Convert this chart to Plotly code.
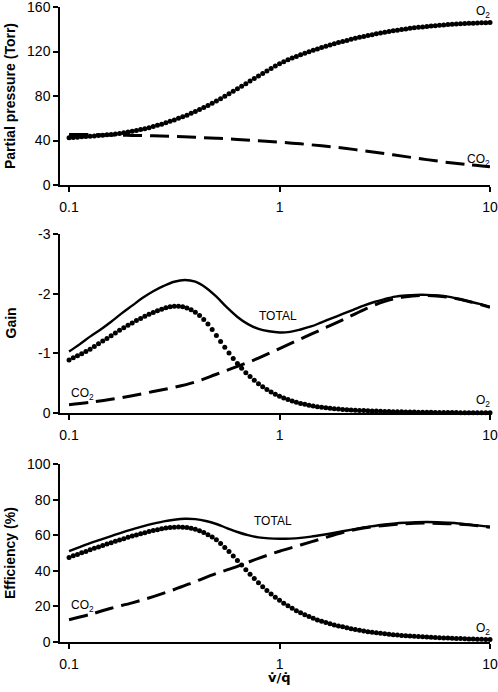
import plotly.graph_objects as go
from plotly.subplots import make_subplots

# ---- x grids -------------------------------------------------------------
MANTISSA = [1.0000, 1.0471, 1.0965, 1.1482, 1.2023, 1.2589, 1.3183, 1.3804, 1.4454, 1.5136,
            1.5849, 1.6596, 1.7378, 1.8197, 1.9055, 1.9953, 2.0893, 2.1878, 2.2909, 2.3988,
            2.5119, 2.6303, 2.7542, 2.8840, 3.0200, 3.1623, 3.3113, 3.4674, 3.6308, 3.8019,
            3.9811, 4.1687, 4.3652, 4.5709, 4.7863, 5.0119, 5.2481, 5.4954, 5.7544, 6.0256,
            6.3096, 6.6069, 6.9183, 7.2444, 7.5858, 7.9433, 8.3176, 8.7096, 9.1201, 9.5499]
VQ_DOTS = [0.1 * m for m in MANTISSA] + list(MANTISSA) + [10.0]

VQ_LINE = [0.1, 0.1259, 0.1585, 0.1995, 0.2512, 0.3162, 0.3981, 0.5012, 0.6310, 0.7943,
           1.0, 1.2589, 1.5849, 1.9953, 2.5119, 3.1623, 3.9811, 5.0119, 6.3096, 7.9433, 10.0]

VQ_TOTAL = [0.1, 0.1122, 0.1259, 0.1413, 0.1585, 0.1778, 0.1995, 0.2239, 0.2512, 0.2818,
            0.3162, 0.3548, 0.3981, 0.4467, 0.5012, 0.5623, 0.6310, 0.7079, 0.7943, 0.8913,
            1.0, 1.1220, 1.2589, 1.4125, 1.5849, 1.7783, 1.9953, 2.2387, 2.5119, 2.8184,
            3.1623, 3.5481, 3.9811, 4.4668, 5.0119, 5.6234, 6.3096, 7.0795, 7.9433, 8.9125, 10.0]

# ---- panel 1: partial pressure (Torr) ------------------------------------
PP_O2 = [42.5, 42.8, 43.0, 43.3, 43.5, 43.8, 44.1, 44.4, 44.8, 45.1,
         45.5, 45.9, 46.4, 46.9, 47.6, 48.3, 49.0, 49.8, 50.6, 51.5,
         52.5, 53.6, 54.7, 55.9, 57.2, 58.5, 59.9, 61.3, 62.8, 64.4,
         66.0, 67.8, 69.6, 71.5, 73.5, 75.5, 77.6, 79.8, 82.0, 84.2,
         86.5, 88.8, 91.1, 93.4, 95.7, 98.0, 100.3, 102.5, 104.7, 106.9,
         109.0, 110.8, 112.5, 114.1, 115.6, 117.0, 118.4, 119.8, 121.1, 122.3,
         123.5, 124.7, 125.8, 126.9, 128.0, 129.0, 130.0, 130.9, 131.8, 132.7,
         133.5, 134.3, 135.1, 135.9, 136.6, 137.3, 138.0, 138.6, 139.2, 139.8,
         140.3, 140.8, 141.3, 141.7, 142.1, 142.5, 142.9, 143.2, 143.6, 143.9,
         144.2, 144.5, 144.7, 144.9, 145.1, 145.3, 145.5, 145.6, 145.8, 145.9, 146.0]
PP_CO2 = [45.5, 45.3, 45.0, 44.6, 44.2, 43.6, 42.9, 42.0, 41.0, 39.8,
          38.5, 37.0, 35.2, 33.2, 30.8, 28.2, 25.5, 22.8, 20.3, 18.2, 16.5]

# ---- panel 2: gain ----------------------------------------------------------
GAIN_O2 = [-0.89, -0.925, -0.96, -0.995, -1.03, -1.07, -1.115, -1.16, -1.205, -1.25,
           -1.295, -1.34, -1.385, -1.43, -1.47, -1.51, -1.55, -1.585, -1.62, -1.655,
           -1.685, -1.715, -1.74, -1.765, -1.78, -1.79, -1.79, -1.78, -1.76, -1.73,
           -1.69, -1.635, -1.565, -1.49, -1.40, -1.30, -1.20, -1.10, -1.005, -0.915,
           -0.83, -0.75, -0.675, -0.61, -0.55, -0.49, -0.44, -0.395, -0.35, -0.315,
           -0.28, -0.25, -0.225, -0.20, -0.18, -0.16, -0.145, -0.13, -0.117, -0.105,
           -0.095, -0.087, -0.079, -0.072, -0.066, -0.06, -0.055, -0.051, -0.047, -0.043,
           -0.04, -0.037, -0.034, -0.032, -0.029, -0.027, -0.025, -0.023, -0.021, -0.02,
           -0.018, -0.017, -0.016, -0.014, -0.013, -0.012, -0.011, -0.010, -0.0095, -0.009,
           -0.008, -0.0075, -0.007, -0.006, -0.0055, -0.005, -0.0045, -0.004, -0.0035, -0.003, -0.003]
GAIN_CO2 = [-0.14, -0.18, -0.23, -0.29, -0.36, -0.43, -0.52, -0.65, -0.78, -0.92,
            -1.08, -1.24, -1.40, -1.56, -1.73, -1.87, -1.95, -1.97, -1.94, -1.87, -1.77]
GAIN_TOTAL = [-1.03, -1.15, -1.28, -1.40, -1.53, -1.67, -1.80, -1.93, -2.04, -2.13,
              -2.20, -2.23, -2.20, -2.10, -1.95, -1.77, -1.61, -1.49, -1.41, -1.37,
              -1.35, -1.36, -1.40, -1.45, -1.52, -1.59, -1.66, -1.73, -1.80, -1.86,
              -1.91, -1.95, -1.97, -1.98, -1.98, -1.97, -1.95, -1.91, -1.87, -1.83, -1.78]

# ---- panel 3: efficiency (%) ---------------------------------------------
EFF_O2 = [47.5, 48.4, 49.2, 50.1, 50.9, 51.8, 52.6, 53.4, 54.2, 55.0,
          55.8, 56.6, 57.3, 58.0, 58.8, 59.5, 60.1, 60.8, 61.4, 62.1,
          62.6, 63.1, 63.6, 64.0, 64.3, 64.5, 64.6, 64.5, 64.3, 63.9,
          63.3, 62.5, 61.5, 60.3, 59.0, 57.5, 55.3, 53.1, 50.8, 48.3,
          45.8, 43.2, 40.6, 38.1, 35.7, 33.3, 31.0, 28.9, 26.9, 25.1,
          23.4, 21.8, 20.3, 18.9, 17.6, 16.4, 15.3, 14.3, 13.3, 12.4,
          11.6, 10.9, 10.2, 9.6, 9.0, 8.5, 8.0, 7.5, 7.0, 6.6,
          6.2, 5.8, 5.5, 5.2, 4.9, 4.6, 4.35, 4.1, 3.9, 3.7,
          3.5, 3.35, 3.2, 3.05, 2.9, 2.75, 2.6, 2.5, 2.4, 2.3,
          2.2, 2.1, 2.0, 1.9, 1.8, 1.75, 1.65, 1.6, 1.5, 1.45, 1.4]
EFF_CO2 = [12.5, 15.5, 19.0, 22.0, 25.5, 29.5, 34.0, 38.5, 42.5, 47.0,
           51.0, 54.5, 58.0, 61.5, 64.0, 65.5, 66.5, 66.8, 66.5, 65.8, 64.5]
EFF_TOTAL = [51.0, 53.3, 55.5, 57.5, 59.5, 61.5, 63.3, 65.0, 66.5, 67.8,
             68.7, 69.2, 69.0, 68.0, 66.3, 64.0, 61.8, 60.0, 58.8, 58.2,
             58.0, 58.1, 58.5, 59.2, 60.1, 61.1, 62.2, 63.3, 64.3, 65.2,
             66.0, 66.6, 67.0, 67.3, 67.4, 67.3, 67.0, 66.6, 66.0, 65.4, 64.7]

# ---- labels -------------------------------------------------------------
X_TICKS = [0.1, 1, 10]
X_TICKTEXT = ["0.1", "1", "10"]
PP_TICKS = [0, 40, 80, 120, 160]
GAIN_TICKS = [0, -1, -2, -3]
GAIN_TICKTEXT = ["0", "-1", "-2", "-3"]
EFF_TICKS = [0, 20, 40, 60, 80, 100]

FONT = "Liberation Sans, Arial, sans-serif"
BLACK = "#000000"

fig = make_subplots(rows=3, cols=1)

dot_style = dict(mode="markers", marker=dict(size=5, color=BLACK), cliponaxis=False, showlegend=False)
dash_style = dict(mode="lines", line=dict(color=BLACK, width=3, dash="19px,8px", shape="spline"),
                  cliponaxis=False, showlegend=False)
solid_style = dict(mode="lines", line=dict(color=BLACK, width=2.4, shape="spline"),
                   cliponaxis=False, showlegend=False)

fig.add_trace(go.Scatter(x=VQ_LINE, y=PP_CO2, **dash_style), row=1, col=1)
fig.add_trace(go.Scatter(x=VQ_DOTS, y=PP_O2, **dot_style), row=1, col=1)

fig.add_trace(go.Scatter(x=VQ_LINE, y=GAIN_CO2, **dash_style), row=2, col=1)
fig.add_trace(go.Scatter(x=VQ_TOTAL, y=GAIN_TOTAL, **solid_style), row=2, col=1)
fig.add_trace(go.Scatter(x=VQ_DOTS, y=GAIN_O2, **dot_style), row=2, col=1)

fig.add_trace(go.Scatter(x=VQ_LINE, y=EFF_CO2, **dash_style), row=3, col=1)
fig.add_trace(go.Scatter(x=VQ_TOTAL, y=EFF_TOTAL, **solid_style), row=3, col=1)
fig.add_trace(go.Scatter(x=VQ_DOTS, y=EFF_O2, **dot_style), row=3, col=1)

H = 692
T, B = 7, 50
PH = H - T - B


def dom(top_px, bot_px):
    return [(H - B - bot_px) / PH, (H - B - top_px) / PH]


axis_common = dict(showline=True, linecolor=BLACK, linewidth=1.5, ticks="outside", ticklen=5,
                   tickwidth=1.5, tickcolor=BLACK, showgrid=False, zeroline=False, automargin=False,
                   ticklabeloverflow="allow",
                   tickfont=dict(family=FONT, size=14, color=BLACK))

for i in (1, 2, 3):
    fig.update_xaxes(type="log", range=[-1.043, 1.0], tickvals=X_TICKS, ticktext=X_TICKTEXT,
                     ticklabelstandoff=3, row=i, col=1, **axis_common)

fig.update_yaxes(range=[0, 160], tickvals=PP_TICKS, domain=dom(7, 185), row=1, col=1, **axis_common)
fig.update_yaxes(range=[0, -3], tickvals=GAIN_TICKS, ticktext=GAIN_TICKTEXT, domain=dom(234, 413),
                 row=2, col=1, **axis_common)
fig.update_yaxes(range=[0, 100], tickvals=EFF_TICKS, domain=dom(464, 642), row=3, col=1, **axis_common)

lab = dict(family=FONT, size=12, color=BLACK)
ann = [
    dict(xref="x", yref="y", x=1.0, xshift=2, y=155.5, text="O<sub>2</sub>", xanchor="right", yanchor="middle"),
    dict(xref="x", yref="y", x=1.0, xshift=2, y=22.5, text="CO<sub>2</sub>", xanchor="right", yanchor="middle"),
    dict(xref="x2", yref="y2", x=-1.0, y=-0.32, text="CO<sub>2</sub>", xanchor="left", yanchor="middle"),
    dict(xref="x2", yref="y2", x=1.0, xshift=2, y=-0.2, text="O<sub>2</sub>", xanchor="right", yanchor="middle"),
    dict(xref="x2", yref="y2", x=-0.0095, y=-1.63, text="TOTAL", xanchor="center", yanchor="middle"),
    dict(xref="x3", yref="y3", x=-1.0, y=20.0, text="CO<sub>2</sub>", xanchor="left", yanchor="middle"),
    dict(xref="x3", yref="y3", x=1.0, xshift=2, y=7.1, text="O<sub>2</sub>", xanchor="right", yanchor="middle"),
    dict(xref="x3", yref="y3", x=-0.031, y=67.7, text="TOTAL", xanchor="center", yanchor="middle"),
]
for a in ann:
    a.update(showarrow=False, font=lab)

title_font = dict(family=FONT, size=14, color=BLACK)
ann += [
    dict(xref="paper", yref="y", x=0, xshift=-50, y=80, text="<b>Partial pressure (Torr)</b>",
         textangle=-90, showarrow=False, font=title_font, xanchor="center", yanchor="middle"),
    dict(xref="paper", yref="y2", x=0, xshift=-50, y=-1.5, text="<b>Gain</b>",
         textangle=-90, showarrow=False, font=title_font, xanchor="center", yanchor="middle"),
    dict(xref="paper", yref="y3", x=0, xshift=-50, y=50, text="<b>Efficiency (%)</b>",
         textangle=-90, showarrow=False, font=title_font, xanchor="center", yanchor="middle"),
    dict(xref="x3", yref="paper", x=0.0, y=0, yshift=-35, text="<b>v\u0307/q\u0307</b>",
         showarrow=False, font=dict(family="DejaVu Sans", size=13, color=BLACK),
         xanchor="center", yanchor="middle"),
]

fig.update_layout(
    width=498, height=692,
    margin=dict(l=60, r=8, t=T, b=B),
    paper_bgcolor="white", plot_bgcolor="white",
    annotations=ann,
    showlegend=False,
    font=dict(family=FONT, color=BLACK),
)

fig.write_html("out.html", config={"displayModeBar": False},
               post_script="document.body.style.margin='0';document.body.style.overflow='hidden';")
